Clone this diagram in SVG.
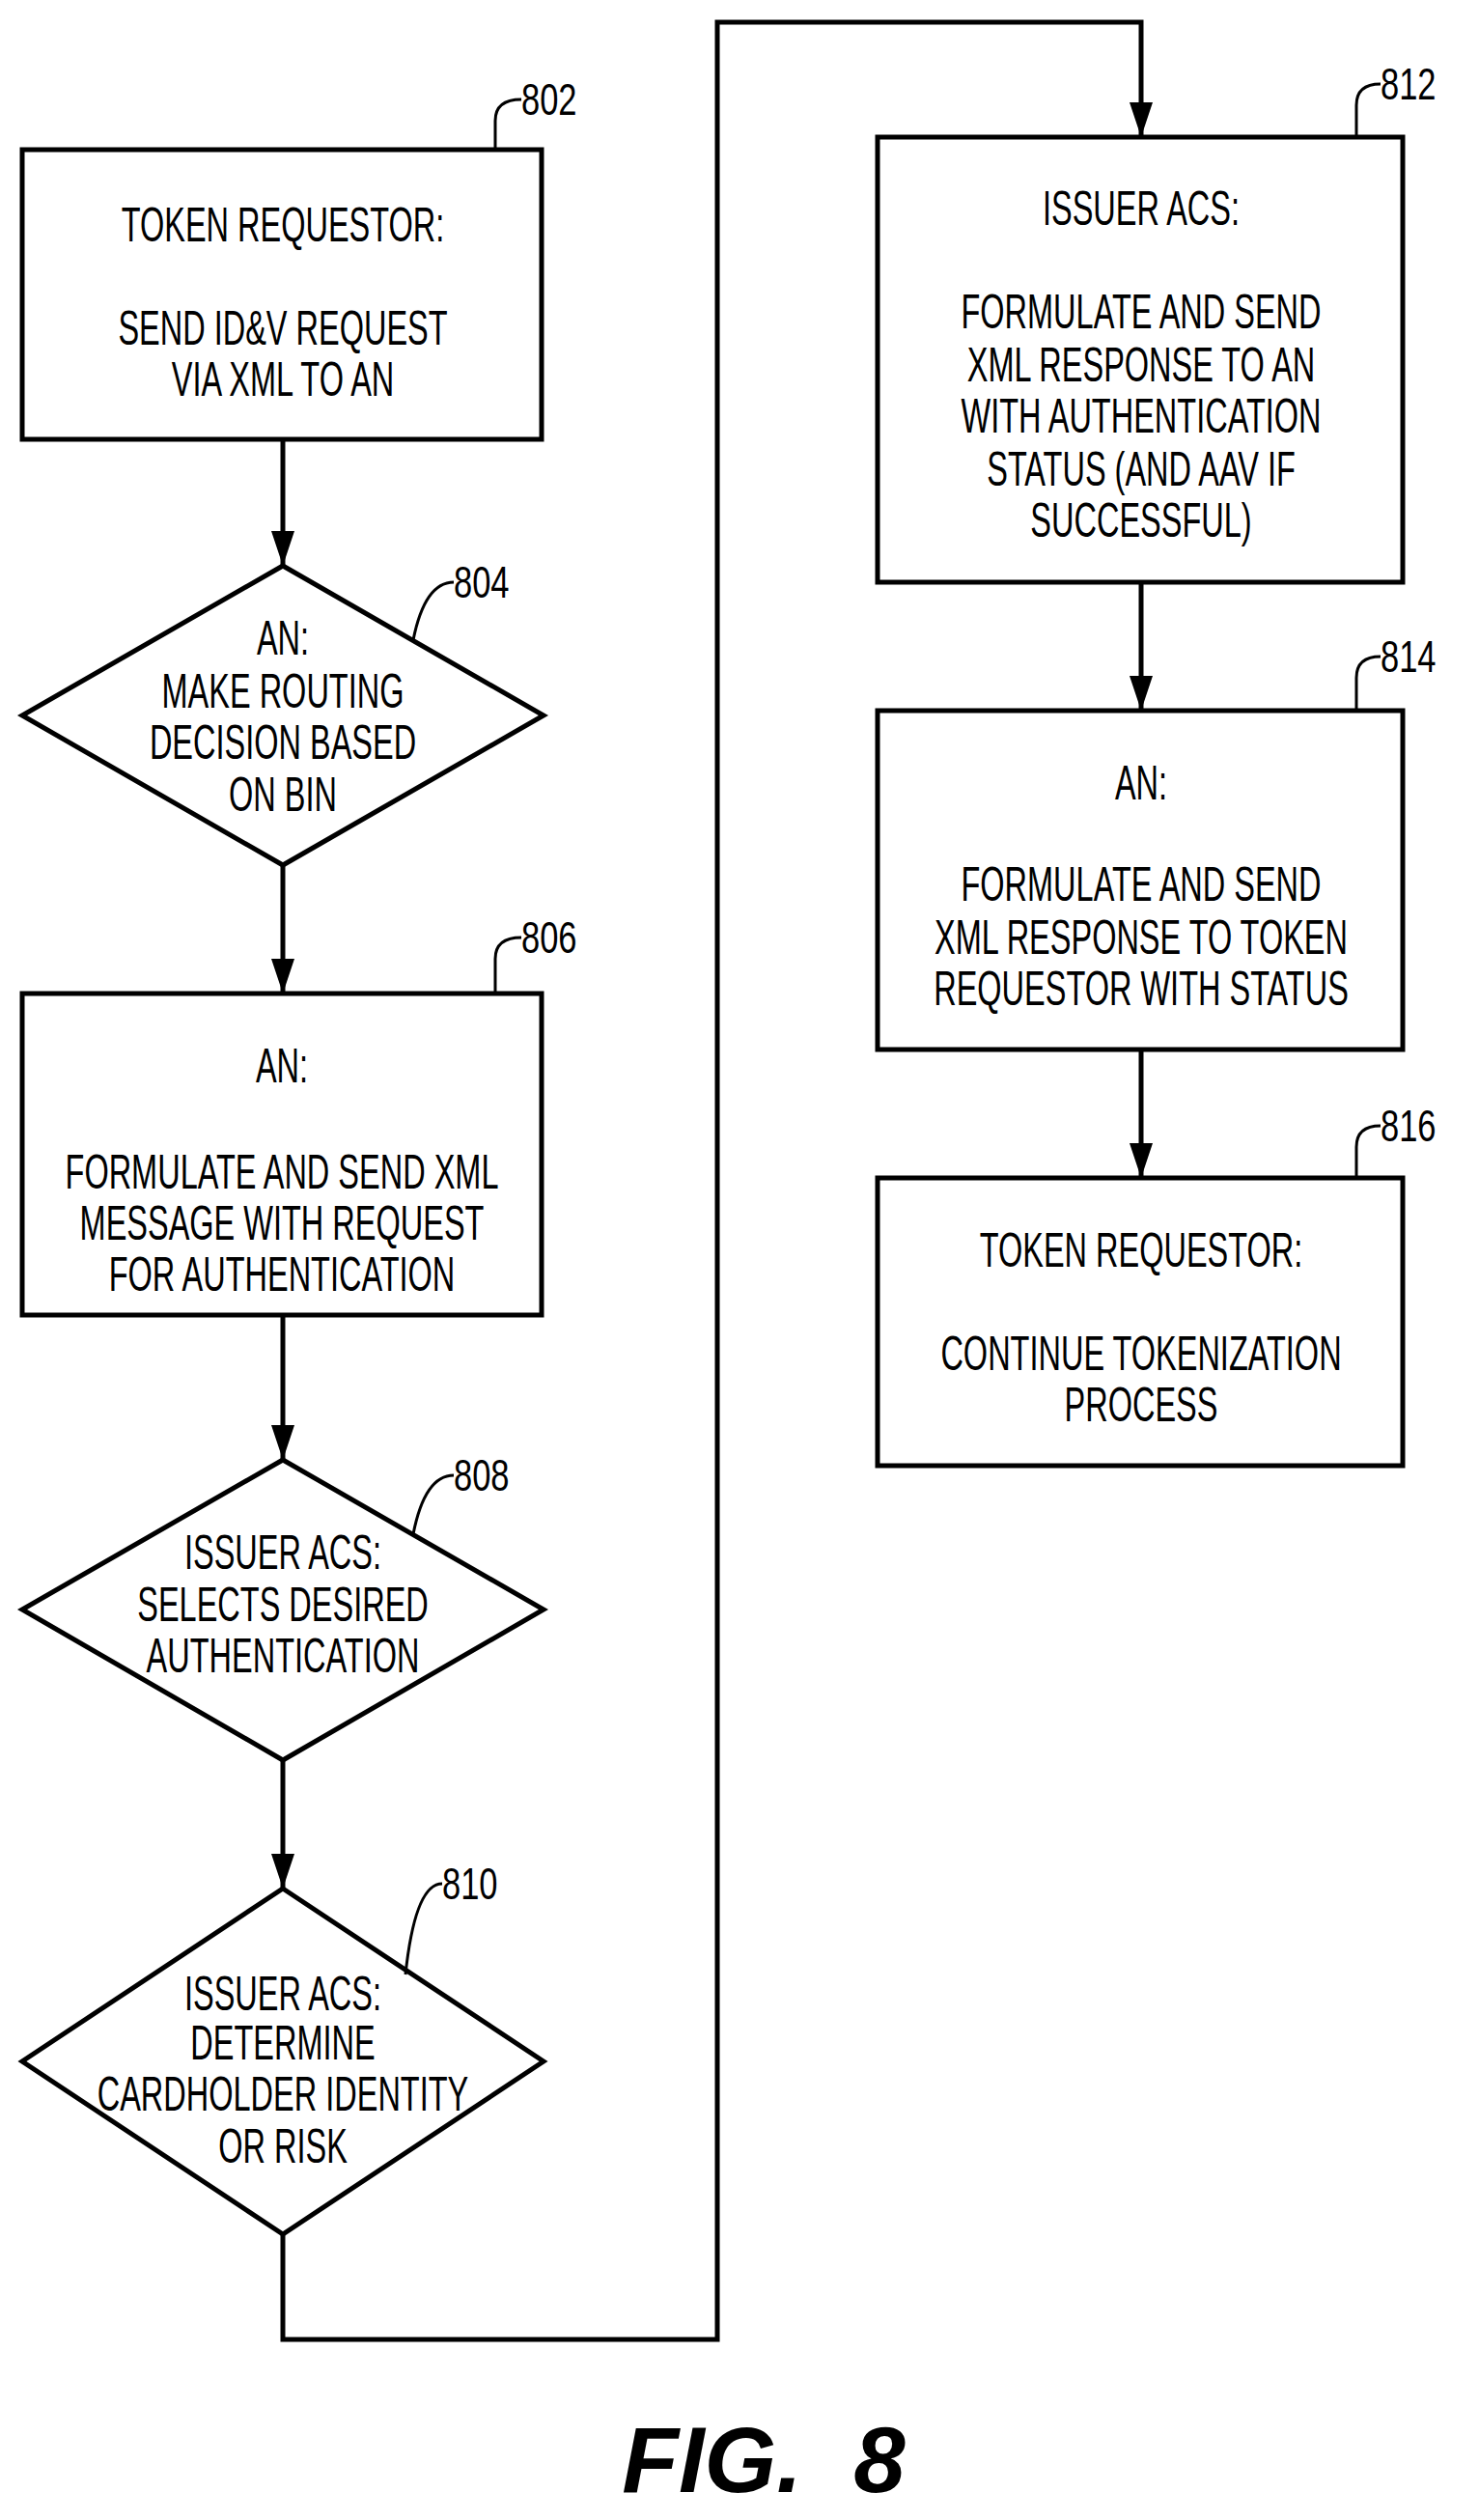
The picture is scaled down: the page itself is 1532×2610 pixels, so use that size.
<svg xmlns="http://www.w3.org/2000/svg" width="1532" height="2610" viewBox="0 0 1532 2610">
<style>
.s{fill:none;stroke:#000;stroke-width:5}
.l{fill:none;stroke:#000;stroke-width:3}
text{font-family:"Liberation Sans",sans-serif;font-size:50px;text-anchor:middle;dominant-baseline:central;fill:#000}
.r{text-anchor:start;font-size:46px}
</style>
<defs>
<marker id="b" viewBox="0 0 36 24" refX="36" refY="12" markerWidth="36" markerHeight="24" orient="auto" markerUnits="userSpaceOnUse"><path d="M0,0L36,12L0,24Z"/></marker></defs>
<rect width="1532" height="2610" fill="#fff"/>
<g id="connectors" class="s">
<path d="M293,455V586" marker-end="url(#b)"/>
<path d="M293,896V1029" marker-end="url(#b)"/>
<path d="M293,1362V1512" marker-end="url(#b)"/>
<path d="M293,1823V1956" marker-end="url(#b)"/>
<path d="M293,2314V2423H743V23H1182V142" marker-end="url(#b)"/>
<path d="M1182,603V736" marker-end="url(#b)"/>
<path d="M1182,1087V1220" marker-end="url(#b)"/>
</g>
<g id="n802"><rect class="s" x="23" y="155" width="538" height="300"/>
<path class="l" d="M513,155V125Q513,103 540,103"/><text class="r" x="540" y="103" transform="translate(540 0) scale(0.75 1) translate(-540 0)">802</text>
<g transform="translate(293 0) scale(0.65 1)"><text x="0" y="233">TOKEN REQUESTOR:</text><text x="0" y="340">SEND ID&amp;V REQUEST</text><text x="0" y="393">VIA XML TO AN</text></g></g>
<g id="n804"><path class="s" d="M293,586L563,741L293,896L23,741Z"/>
<path class="l" d="M428,663Q440,603 470,603"/><text class="r" x="470" y="603" transform="translate(470 0) scale(0.75 1) translate(-470 0)">804</text>
<g transform="translate(293 0) scale(0.65 1)"><text x="0" y="661">AN:</text><text x="0" y="716">MAKE ROUTING</text><text x="0" y="769">DECISION BASED</text><text x="0" y="823">ON BIN</text></g></g>
<g id="n806"><rect class="s" x="23" y="1029" width="538" height="333"/>
<path class="l" d="M513,1029V993Q513,971 540,971"/><text class="r" x="540" y="971" transform="translate(540 0) scale(0.75 1) translate(-540 0)">806</text>
<g transform="translate(292 0) scale(0.65 1)"><text x="0" y="1104">AN:</text><text x="0" y="1214">FORMULATE AND SEND XML</text><text x="0" y="1267">MESSAGE WITH REQUEST</text><text x="0" y="1320">FOR AUTHENTICATION</text></g></g>
<g id="n808"><path class="s" d="M293,1512L563,1667L293,1823L23,1667Z"/>
<path class="l" d="M428,1589Q440,1528 470,1528"/><text class="r" x="470" y="1528" transform="translate(470 0) scale(0.75 1) translate(-470 0)">808</text>
<g transform="translate(293 0) scale(0.65 1)"><text x="0" y="1608">ISSUER ACS:</text><text x="0" y="1662">SELECTS DESIRED</text><text x="0" y="1715">AUTHENTICATION</text></g></g>
<g id="n810"><path class="s" d="M293,1956L563,2135L293,2314L23,2135Z"/>
<path class="l" d="M420,2045Q430,1951 458,1951"/><text class="r" x="458" y="1951" transform="translate(458 0) scale(0.75 1) translate(-458 0)">810</text>
<g transform="translate(293 0) scale(0.65 1)"><text x="0" y="2065">ISSUER ACS:</text><text x="0" y="2116">DETERMINE</text><text x="0" y="2169">CARDHOLDER IDENTITY</text><text x="0" y="2223">OR RISK</text></g></g>
<g id="n812"><rect class="s" x="909" y="142" width="544" height="461"/>
<path class="l" d="M1405,142V109Q1405,87 1430,87"/><text class="r" x="1430" y="87" transform="translate(1430 0) scale(0.75 1) translate(-1430 0)">812</text>
<g transform="translate(1182 0) scale(0.65 1)"><text x="0" y="216">ISSUER ACS:</text><text x="0" y="323">FORMULATE AND SEND</text><text x="0" y="378">XML RESPONSE TO AN</text><text x="0" y="431">WITH AUTHENTICATION</text><text x="0" y="486">STATUS (AND AAV IF</text><text x="0" y="539">SUCCESSFUL)</text></g></g>
<g id="n814"><rect class="s" x="909" y="736" width="544" height="351"/>
<path class="l" d="M1405,736V702Q1405,680 1430,680"/><text class="r" x="1430" y="680" transform="translate(1430 0) scale(0.75 1) translate(-1430 0)">814</text>
<g transform="translate(1182 0) scale(0.65 1)"><text x="0" y="811">AN:</text><text x="0" y="916">FORMULATE AND SEND</text><text x="0" y="971">XML RESPONSE TO TOKEN</text><text x="0" y="1024">REQUESTOR WITH STATUS</text></g></g>
<g id="n816"><rect class="s" x="909" y="1220" width="544" height="298"/>
<path class="l" d="M1405,1220V1188Q1405,1166 1430,1166"/><text class="r" x="1430" y="1166" transform="translate(1430 0) scale(0.75 1) translate(-1430 0)">816</text>
<g transform="translate(1182 0) scale(0.65 1)"><text x="0" y="1295">TOKEN REQUESTOR:</text><text x="0" y="1402">CONTINUE TOKENIZATION</text><text x="0" y="1455">PROCESS</text></g></g>
<text x="791" y="2547" xml:space="preserve" style="font-family:'Liberation Sans',sans-serif;font-style:italic;font-weight:bold;font-size:96px">FIG.  8</text>
</svg>
